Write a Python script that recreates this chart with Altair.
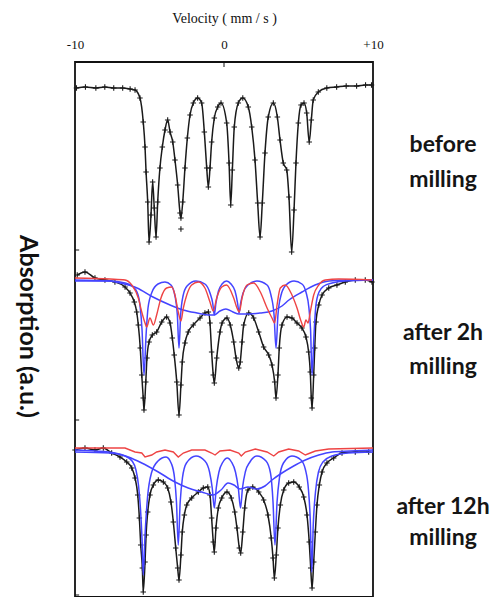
import altair as alt
import pandas as pd

# ---- values: velocity (mm/s) and absorption (a.u., grows downward) ----
# before milling: measured points / fit
s1_v = [-9.9, -9.3, -8.6, -8.0, -7.4, -6.8, -6.3, -5.97, -5.64, -5.42, -5.30, -5.23, -5.12, -5.03, -4.90,
        -4.79, -4.68, -4.56, -4.45, -4.30, -4.14, -3.96, -3.78, -3.62, -3.44, -3.29, -3.11, -2.95, -2.89,
        -2.77, -2.62, -2.46, -2.28, -2.06, -1.77, -1.50, -1.32, -1.16, -1.05, -0.94, -0.83, -0.65, -0.42,
        -0.20, 0.18, 0.34, 0.45, 0.56, 0.69, 0.96, 1.26, 1.63, 1.86, 2.08, 2.26, 2.42, 2.57, 2.75, 2.97,
        3.31, 3.58, 3.76, 3.98, 4.21, 4.36, 4.54, 4.70, 4.83, 4.99, 5.17, 5.37, 5.55, 5.72, 5.86, 5.99,
        6.33, 6.9, 7.56, 8.2, 8.9, 9.5, 9.9]
s1_a = [88, 87, 88, 87, 88, 88, 89, 90, 98, 122, 147, 172, 202, 242, 215,
        182, 208, 237, 202, 168, 147, 130, 120, 132, 142, 160, 185, 213, 218,
        202, 168, 138, 115, 103, 98, 103, 132, 168, 187, 168, 142, 118, 107,
        103, 123, 163, 205, 170, 127, 103, 98, 107, 127, 160, 203, 237, 203, 153, 117,
        103, 117, 140, 163, 170, 197, 252, 210, 163, 123, 105, 103, 113, 142, 120, 100,
        92, 88, 87, 86, 86, 85, 85]
s1x_v = [-2.89]
s1x_a = [229]

# after 2h milling: measured points / total fit
s2_v = [-9.85, -9.33, -8.66, -7.99, -7.32, -6.64, -6.31, -6.02, -5.86, -5.75, -5.62, -5.52, -5.42, -5.37,
        -5.25, -5.17, -5.03, -4.81, -4.52, -4.18, -3.85, -3.62, -3.47, -3.34, -3.17, -3.02, -2.89, -2.80,
        -2.62, -2.40, -2.06, -1.61, -1.28, -1.05, -0.94, -0.83, -0.72, -0.65, -0.49, -0.27, -0.13, 0.20,
        0.42, 0.65, 0.81, 0.99, 1.09, 1.21, 1.32, 1.66, 1.99, 2.33, 2.66, 3.00, 3.22, 3.40, 3.49, 3.62,
        3.71, 3.89, 4.23, 4.56, 4.90, 5.23, 5.50, 5.68, 5.79, 5.86, 5.91, 6.02, 6.09, 6.17, 6.36, 6.58,
        7.03, 7.58, 8.14, 8.81, 9.48, 9.93]
s2_a = [275, 272, 278, 280, 282, 287, 293, 302, 312, 325, 348, 375, 398, 410,
        382, 358, 342, 335, 332, 322, 317, 323, 338, 355, 382, 415, 385, 362,
        343, 332, 325, 318, 313, 312, 323, 352, 375, 383, 358, 332, 323, 318,
        325, 342, 358, 368, 362, 342, 325, 313, 318, 332, 347, 355, 365, 382, 398, 375,
        348, 325, 317, 318, 323, 328, 337, 352, 372, 398, 408, 375, 348, 322, 305, 295,
        288, 285, 282, 280, 280, 282]
# after 2h: sharp sextet (blue)
b2_v = [-10.0, -7.65, -6.64, -6.17, -5.84, -5.64, -5.50, -5.37, -5.23, -5.10, -4.83, -4.43, -3.96, -3.56,
        -3.29, -3.13, -3.02, -2.91, -2.75, -2.48, -1.88, -1.28, -0.94, -0.76, -0.65, -0.54, -0.37, -0.13,
        0.17, 0.47, 0.74, 0.91, 1.01, 1.12, 1.28, 1.61, 2.21, 2.89, 3.15, 3.36, 3.49, 3.62, 3.83, 4.16,
        4.70, 5.23, 5.50, 5.70, 5.81, 5.91, 6.04, 6.17, 6.38, 6.71, 7.25, 8.12, 10.0]
b2_a = [281, 281, 283, 286, 292, 305, 330, 375, 335, 308, 292, 284, 282, 285,
        296, 315, 348, 315, 296, 286, 281, 284, 293, 303, 315, 303, 291, 284,
        281, 284, 291, 303, 313, 303, 293, 285, 281, 285, 295, 315, 348, 315, 295, 285,
        281, 284, 292, 308, 330, 375, 335, 305, 292, 286, 283, 281, 280]
# after 2h: broad component (blue)
w2_v = [-10.0, -7.65, -6.98, -5.84, -4.77, -3.62, -2.75, -1.81, -0.94, -0.67, -0.27, 0.13, 0.60, 1.01,
        1.74, 2.42, 3.22, 3.89, 4.36, 5.23, 6.11, 7.05, 8.46, 10.0]
w2_a = [280, 281, 283, 288, 297, 305, 310, 313, 315, 315, 311, 309, 312, 314,
        314, 313, 311, 306, 300, 292, 285, 281, 280, 280]
# after 2h: red component
r2_v = [-10.0, -7.65, -6.64, -6.19, -5.75, -5.52, -5.30, -5.19, -4.97, -4.74, -4.52, -4.23, -3.85, -3.51,
        -3.29, -3.07, -2.89, -2.73, -2.50, -2.17, -1.72, -1.28, -0.94, -0.72, -0.49, -0.15, 0.17, 0.65,
        0.87, 1.03, 1.21, 1.54, 1.99, 2.44, 2.89, 3.22, 3.40, 3.56, 3.78, 4.11, 4.56, 4.90, 5.19, 5.35,
        5.50, 5.64, 5.79, 6.02, 6.36, 6.80, 7.70, 9.93]
r2_a = [278, 279, 280, 285, 298, 312, 323, 327, 318, 325, 315, 298, 288, 287,
        295, 312, 321, 308, 295, 285, 282, 288, 302, 311, 298, 287, 285, 298,
        308, 312, 298, 285, 283, 292, 308, 318, 323, 305, 288, 285, 295, 308, 322, 327,
        320, 323, 312, 295, 285, 280, 279, 280]

# after 12h milling: measured points / total fit
s3_v = [-10.0, -9.33, -8.66, -8.10, -7.54, -6.98, -6.53, -6.19, -5.97, -5.79, -5.68, -5.59, -5.48, -5.42,
        -5.30, -5.23, -5.12, -4.97, -4.74, -4.41, -4.07, -3.78, -3.56, -3.40, -3.24, -3.11, -3.02, -2.89,
        -2.80, -2.66, -2.50, -2.17, -1.72, -1.39, -1.09, -0.94, -0.83, -0.72, -0.65, -0.54, -0.38, -0.15,
        0.20, 0.49, 0.72, 0.87, 1.03, 1.12, 1.26, 1.39, 1.61, 1.93, 2.33, 2.66, 2.95, 3.17, 3.29, 3.38,
        3.51, 3.62, 3.78, 4.01, 4.34, 4.68, 5.05, 5.35, 5.57, 5.72, 5.82, 5.91, 6.02, 6.13, 6.24, 6.40,
        6.58, 6.91, 7.36, 7.92, 8.81, 9.71]
s3_a = [450, 448, 450, 448, 453, 457, 462, 468, 478, 495, 518, 545, 568, 592,
        562, 535, 512, 495, 485, 480, 482, 488, 502, 522, 548, 568, 580, 555,
        532, 515, 505, 498, 492, 488, 487, 495, 518, 542, 552, 528, 508, 498,
        492, 498, 512, 528, 548, 553, 532, 508, 490, 487, 492, 500, 515, 538, 558, 578,
        555, 528, 505, 490, 483, 482, 487, 497, 515, 542, 568, 588, 562, 532, 505, 485,
        472, 463, 458, 453, 452, 452]
# after 12h: sharp sextet (blue)
b3_v = [-10.0, -7.65, -6.64, -6.17, -5.91, -5.74, -5.60, -5.50, -5.42, -5.30, -5.13, -4.87, -4.43, -3.89,
        -3.52, -3.32, -3.19, -3.07, -2.94, -2.79, -2.52, -1.88, -1.28, -0.97, -0.79, -0.65, -0.52, -0.34,
        -0.07, 0.22, 0.50, 0.77, 0.96, 1.11, 1.24, 1.43, 1.74, 2.21, 2.82, 3.12, 3.29, 3.42, 3.56, 3.72,
        3.99, 4.56, 5.17, 5.47, 5.67, 5.79, 5.89, 5.99, 6.14, 6.34, 6.64, 7.25, 8.32, 10.0]
b3_a = [452, 453, 456, 461, 470, 485, 510, 540, 575, 535, 497, 473, 461, 457,
        464, 478, 502, 545, 502, 478, 463, 456, 461, 472, 488, 508, 488, 472,
        462, 458, 462, 472, 488, 508, 488, 472, 462, 456, 461, 473, 502, 545, 502, 478,
        463, 456, 460, 470, 490, 520, 572, 525, 492, 472, 462, 456, 453, 452]
# after 12h: broad component (blue)
w3_v = [-10.0, -8.66, -7.32, -6.42, -5.52, -4.41, -3.29, -2.40, -1.50, -0.74, -0.20, 0.27, 0.67, 1.07,
        1.61, 2.21, 2.75, 3.22, 3.89, 4.56, 5.46, 6.36, 7.25, 8.46, 10.0]
w3_a = [450, 451, 453, 457, 463, 472, 482, 488, 492, 495, 490, 483, 485, 489,
        487, 489, 486, 480, 473, 467, 460, 455, 452, 451, 450]
# after 12h: red component
r3_v = [-10.0, -6.64, -5.97, -5.52, -5.30, -4.85, -4.52, -3.96, -3.40, -3.07, -2.73, -2.17, -1.28, -0.83,
        -0.60, -0.27, 0.40, 0.99, 1.16, 1.43, 2.10, 2.89, 3.34, 3.67, 4.34, 5.01, 5.46, 5.79, 6.13, 7.03,
        10.0]
r3_a = [448, 448, 452, 453, 457, 455, 452, 450, 452, 457, 453, 450, 450, 453,
        455, 451, 450, 453, 456, 452, 449, 452, 456, 452, 449, 451, 455, 453, 451, 449,
        448]

# annotation texts and where they sit (velocity beyond the frame, absorption level)
label_text = ["before", "milling", "after 2h", "milling", "after 12h", "milling"]
label_a = [145, 180, 333, 367, 507, 538]
label_v = [14.7, 14.7, 14.7, 14.7, 14.7, 14.7]

# inward tick marks of the frame
tick_v = [-10.0, -10.0, -10.0, 0.0]
tick_v2 = [-9.72, -9.72, -9.72, 0.0]
tick_a = [250, 420, 595, 62]
tick_a2 = [250, 420, 595, 67]


def frame(vs, avals, name):
    return pd.DataFrame({"v": vs, "a": avals, "curve": name})


curves = pd.concat([
    frame(s1_v, s1_a, "s1"), frame(s1x_v, s1x_a, "s1x"),
    frame(s2_v, s2_a, "s2"), frame(b2_v, b2_a, "b2"), frame(w2_v, w2_a, "w2"), frame(r2_v, r2_a, "r2"),
    frame(s3_v, s3_a, "s3"), frame(b3_v, b3_a, "b3"), frame(w3_v, w3_a, "w3"), frame(r3_v, r3_a, "r3"),
], ignore_index=True)

labels = pd.DataFrame({"v": label_v, "a": label_a, "t": label_text})
ticks = pd.DataFrame({"v": tick_v, "v2": tick_v2, "a": tick_a, "a2": tick_a2})

xscale = alt.Scale(domain=[-10, 10], nice=False, zero=False)
yscale = alt.Scale(domain=[62, 597], nice=False, zero=False, reverse=True)
xaxis = alt.Axis(orient="top", values=[-10, 0, 10],
                 labelExpr="datum.value > 0 ? '+' + datum.value : '' + datum.value",
                 ticks=False, domain=False, grid=False, labelFlush=False,
                 labelFont="Liberation Serif", labelFontSize=13, labelColor="#111",
                 labelPadding=11, title="Velocity ( mm / s )",
                 titleFont="Liberation Serif", titleFontSize=14, titleFontWeight="normal",
                 titleColor="#111", titlePadding=13)
yaxis = alt.Axis(title="Absorption  (a.u.)", labels=False, ticks=False, domain=False, grid=False,
                 titleAngle=90, titleX=-48, titleY=264, titleAlign="center", titleBaseline="middle",
                 titleFont="Lato", titleFontSize=25, titleFontWeight="bold", titleColor="#111")

X = alt.X("v:Q", scale=xscale, axis=xaxis)
Y = alt.Y("a:Q", scale=yscale, axis=yaxis)

base = alt.Chart(curves).encode(x=X, y=Y, detail="curve:N")

black_fit = base.transform_filter(
    alt.FieldOneOfPredicate(field="curve", oneOf=["s1", "s2", "s3"])
).mark_line(color="#1a1a1a", strokeWidth=1.5, interpolate="monotone")

black_pts = base.transform_filter(
    alt.FieldOneOfPredicate(field="curve", oneOf=["s1", "s1x", "s2", "s3"])
).mark_point(shape="M-1,0H1M0,-1V1", filled=False, size=30, strokeWidth=1.1, color="#1a1a1a", opacity=1)

blue = base.transform_filter(
    alt.FieldOneOfPredicate(field="curve", oneOf=["b2", "w2", "b3", "w3"])
).mark_line(color="#4444ff", strokeWidth=1.5, interpolate="monotone")

red2 = base.transform_filter(alt.FieldEqualPredicate(field="curve", equal="r2")).mark_line(
    color="#ee4444", strokeWidth=1.4, interpolate="monotone")
red3 = base.transform_filter(alt.FieldEqualPredicate(field="curve", equal="r3")).mark_line(
    color="#ee4444", strokeWidth=1.4, interpolate="linear")

tick_layer = alt.Chart(ticks).mark_rule(color="#111", strokeWidth=1).encode(
    x=X, x2="v2:Q", y=Y, y2="a2:Q")

text_layer = alt.Chart(labels).mark_text(
    font="Lato", fontSize=23, fontWeight="bold", color="#151515", align="center", baseline="middle"
).encode(x=X, y=Y, text="t:N")

chart = alt.layer(black_fit, black_pts, blue, red2, red3, tick_layer, text_layer).properties(
    width=298, height=535,
    background="white",
    autosize=alt.AutoSizeParams(type="none"),
    padding={"left": 75, "top": 62, "right": 126, "bottom": 0},
).configure_view(stroke="#111111", strokeWidth=1.8)

chart.save("out.html", embed_options={"renderer": "svg", "actions": False})
